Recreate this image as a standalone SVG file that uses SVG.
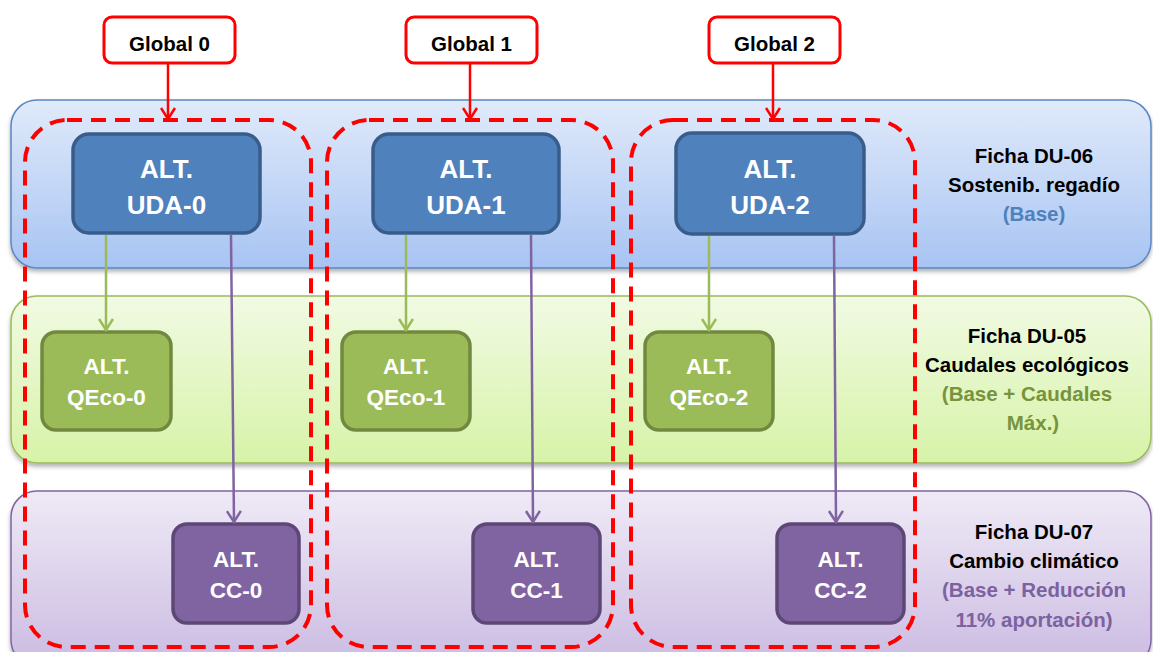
<svg xmlns="http://www.w3.org/2000/svg" width="1153" height="652" viewBox="0 0 1153 652">
<style>
.lbl{font-family:"Liberation Sans",Arial,sans-serif;font-weight:bold;text-anchor:middle}
.w{fill:#fff}
.big{font-size:26px}
.sm{font-size:22.5px}
.side{font-size:20.5px;fill:#000}
.glob{fill:#fff;stroke:#ff0000;stroke-width:3}
.gtxt{font-size:20.5px;fill:#000}
.dash{fill:none;stroke:#ff0000;stroke-width:4;stroke-dasharray:15 9}
.uda{fill:#4f81bd;stroke:#385d8a;stroke-width:3.5}
.qeco{fill:#9bbb59;stroke:#71893f;stroke-width:3.5}
.cc{fill:#8064a2;stroke:#5c4776;stroke-width:3.5}
</style>
<defs>
<linearGradient id="gb" x1="0" y1="0" x2="0" y2="1"><stop offset="0" stop-color="#e0eafa"/><stop offset="1" stop-color="#a8c4f3"/></linearGradient>
<linearGradient id="gg" x1="0" y1="0" x2="0" y2="1"><stop offset="0" stop-color="#f1fae3"/><stop offset="1" stop-color="#d7f3a8"/></linearGradient>
<linearGradient id="gp" x1="0" y1="0" x2="0" y2="1"><stop offset="0" stop-color="#efeaf6"/><stop offset="1" stop-color="#cbbbe2"/></linearGradient>
<filter id="sh" x="-5%" y="-10%" width="110%" height="125%"><feDropShadow dx="0" dy="3" stdDeviation="2" flood-color="#000" flood-opacity="0.3"/></filter>
<marker id="ag2" markerWidth="16" markerHeight="16" refX="14" refY="8" orient="auto" markerUnits="userSpaceOnUse" viewBox="0 0 16 16"><polyline points="3,1 14,8 3,15" fill="none" stroke="#9bbb59" stroke-width="2.5"/></marker>
<marker id="ap" markerWidth="16" markerHeight="16" refX="14" refY="8" orient="auto" markerUnits="userSpaceOnUse" viewBox="0 0 16 16"><polyline points="3,1 14,8 3,15" fill="none" stroke="#8064a2" stroke-width="2.5"/></marker>
<marker id="ar2" markerWidth="16" markerHeight="16" refX="14" refY="8" orient="auto" markerUnits="userSpaceOnUse" viewBox="0 0 16 16"><polyline points="3,1 14,8 3,15" fill="none" stroke="#ff0000" stroke-width="2.5"/></marker>
</defs>
<rect width="1153" height="652" fill="#fff"/>
<g id="band-du06"><rect x="11" y="100" width="1140" height="168" rx="26" fill="url(#gb)" stroke="#5a87c0" stroke-width="1.5" filter="url(#sh)"/>
<text class="lbl side" x="1034" y="163">Ficha DU-06</text><text class="lbl side" x="1034" y="192">Sostenib. regadío</text><text class="lbl side" x="1034" y="221" style="fill:#4f81bd">(Base)</text></g>
<g id="band-du05"><rect x="11" y="296" width="1140" height="167" rx="26" fill="url(#gg)" stroke="#9bbb59" stroke-width="1.5" filter="url(#sh)"/>
<text class="lbl side" x="1027" y="343">Ficha DU-05</text><text class="lbl side" x="1027" y="372">Caudales ecológicos</text><text class="lbl side" x="1027" y="401" style="fill:#77933c">(Base + Caudales</text><text class="lbl side" x="1033" y="430" style="fill:#77933c">Máx.)</text></g>
<g id="band-du07"><rect x="11" y="491" width="1140" height="175" rx="26" fill="url(#gp)" stroke="#8064a2" stroke-width="1.5" filter="url(#sh)"/>
<text class="lbl side" x="1034" y="539">Ficha DU-07</text><text class="lbl side" x="1034" y="568">Cambio climático</text><text class="lbl side" x="1034" y="597" style="fill:#7b62a0">(Base + Reducción</text><text class="lbl side" x="1034" y="627" style="fill:#7b62a0">11% aportación)</text></g>
<g id="uda-0"><rect class="uda" x="73" y="134" width="187" height="99" rx="16"/><text class="lbl w big" x="166.5" y="178">ALT.</text><text class="lbl w big" x="166.5" y="214">UDA-0</text></g>
<g id="uda-1"><rect class="uda" x="373" y="134" width="186" height="99" rx="16"/><text class="lbl w big" x="466" y="178">ALT.</text><text class="lbl w big" x="466" y="214">UDA-1</text></g>
<g id="uda-2"><rect class="uda" x="676" y="133" width="188" height="101" rx="16"/><text class="lbl w big" x="770" y="178">ALT.</text><text class="lbl w big" x="770" y="214">UDA-2</text></g>
<g id="qeco-0"><rect class="qeco" x="42" y="332" width="129" height="98" rx="14"/><text class="lbl w sm" x="106.5" y="374">ALT.</text><text class="lbl w sm" x="106.5" y="405">QEco-0</text></g>
<g id="qeco-1"><rect class="qeco" x="342" y="332" width="128" height="98" rx="14"/><text class="lbl w sm" x="406" y="374">ALT.</text><text class="lbl w sm" x="406" y="405">QEco-1</text></g>
<g id="qeco-2"><rect class="qeco" x="645" y="332" width="128" height="98" rx="14"/><text class="lbl w sm" x="709" y="374">ALT.</text><text class="lbl w sm" x="709" y="405">QEco-2</text></g>
<g id="cc-0"><rect class="cc" x="173" y="524" width="126" height="99" rx="14"/><text class="lbl w sm" x="236" y="567">ALT.</text><text class="lbl w sm" x="236" y="598">CC-0</text></g>
<g id="cc-1"><rect class="cc" x="473" y="524" width="127" height="99" rx="14"/><text class="lbl w sm" x="536.5" y="567">ALT.</text><text class="lbl w sm" x="536.5" y="598">CC-1</text></g>
<g id="cc-2"><rect class="cc" x="777" y="524" width="127" height="99" rx="14"/><text class="lbl w sm" x="840.5" y="567">ALT.</text><text class="lbl w sm" x="840.5" y="598">CC-2</text></g>
<g id="global-0"><rect class="glob" x="104" y="17" width="131" height="46" rx="8"/><text class="lbl gtxt" x="169.5" y="51">Global 0</text></g>
<g id="global-1"><rect class="glob" x="406" y="17" width="131" height="46" rx="8"/><text class="lbl gtxt" x="471.5" y="51">Global 1</text></g>
<g id="global-2"><rect class="glob" x="709" y="17" width="131" height="46" rx="8"/><text class="lbl gtxt" x="774.5" y="51">Global 2</text></g>
<g id="groups">
<rect class="dash" x="25" y="120" width="286" height="527" rx="42"/>
<rect class="dash" x="327" y="120" width="286" height="527" rx="42"/>
<rect class="dash" x="631" y="120" width="284" height="527" rx="42"/>
</g>
<g id="connectors" fill="none" stroke-width="2.5">
<line x1="168" y1="63" x2="168" y2="119" stroke="#ff0000" marker-end="url(#ar2)"/>
<line x1="470" y1="63" x2="470" y2="119" stroke="#ff0000" marker-end="url(#ar2)"/>
<line x1="773" y1="63" x2="773" y2="119" stroke="#ff0000" marker-end="url(#ar2)"/>
<line x1="106" y1="235" x2="106" y2="330" stroke="#9bbb59" marker-end="url(#ag2)"/>
<line x1="406" y1="235" x2="406" y2="330" stroke="#9bbb59" marker-end="url(#ag2)"/>
<line x1="709" y1="236" x2="709" y2="330" stroke="#9bbb59" marker-end="url(#ag2)"/>
<line x1="231" y1="235" x2="234" y2="522" stroke="#8064a2" marker-end="url(#ap)"/>
<line x1="531" y1="235" x2="533" y2="522" stroke="#8064a2" marker-end="url(#ap)"/>
<line x1="834" y1="236" x2="836" y2="522" stroke="#8064a2" marker-end="url(#ap)"/>
</g>
</svg>
